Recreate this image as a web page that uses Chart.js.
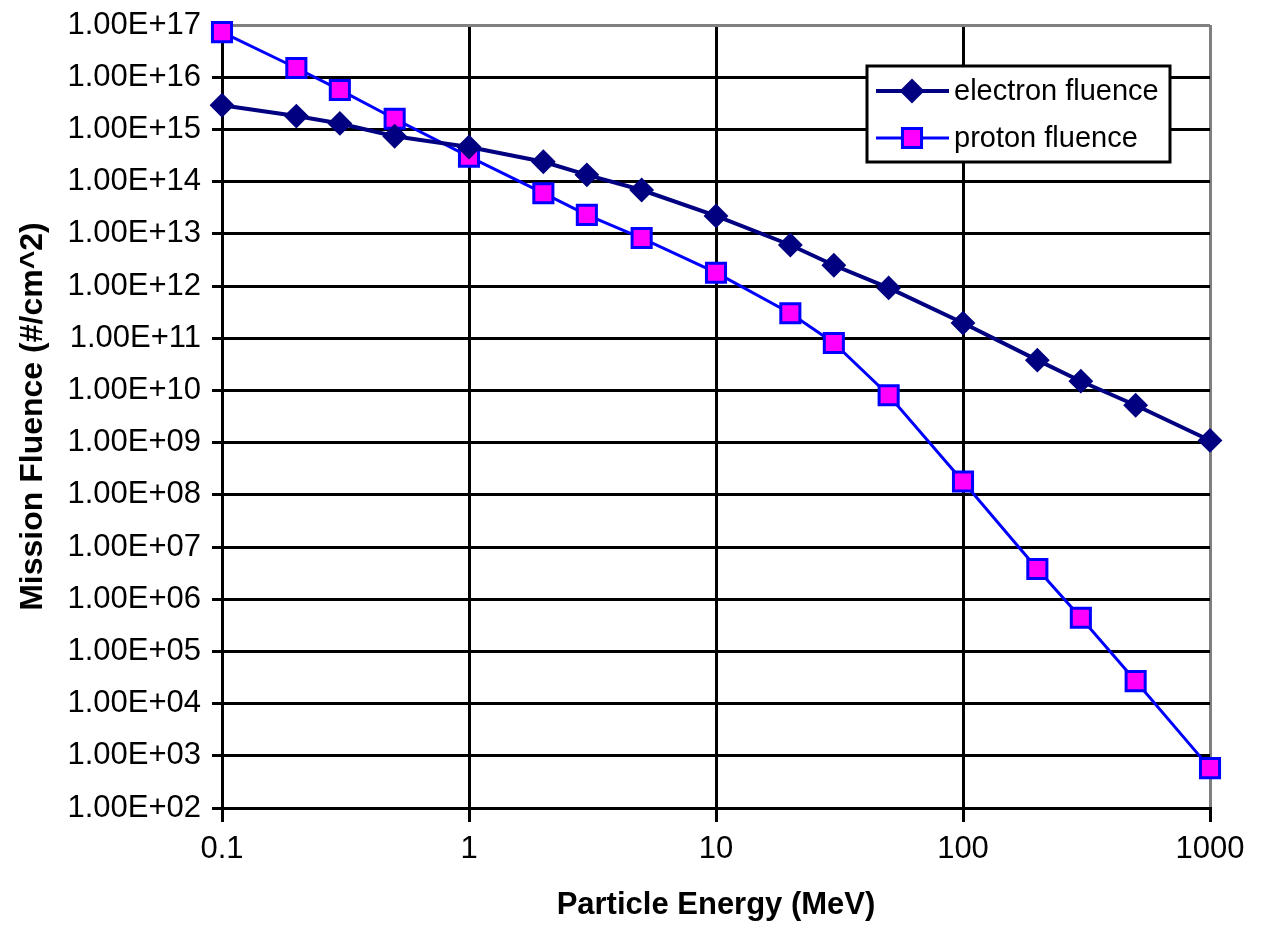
<!DOCTYPE html>
<html>
<head>
<meta charset="utf-8">
<script src="https://cdn.jsdelivr.net/npm/chart.js@4.4.1/dist/chart.umd.min.js"></script>
<style>
  html, body { margin: 0; padding: 0; background: #fff; }
  canvas { display: block; }
</style>
</head>
<body>
<canvas id="fluenceChart" width="1262" height="925"></canvas>
<script>
// Particle energy (MeV) and mission fluence (#/cm^2)
const energies = [0.1, 0.2, 0.3, 0.5, 1, 2, 3, 5, 10, 20, 30, 50, 100, 200, 300, 500, 1000];
const electronFluence = [2.9e15, 1.8e15, 1.3e15, 7.4e14, 4.6e14, 2.4e14, 1.35e14, 6.9e13, 2.2e13, 6.1e12, 2.5e12, 9.2e11, 1.95e11, 3.8e10, 1.5e10, 5.2e9, 1.1e9];
const protonFluence = [7.3e16, 1.5e16, 5.7e15, 1.6e15, 3.0e14, 6.0e13, 2.3e13, 8.3e12, 1.8e12, 3.0e11, 8.1e10, 8.1e9, 1.8e8, 3.8e6, 4.4e5, 2.7e4, 5.8e2];

const xTicks = [0.1, 1, 10, 100, 1000];
const yTicks = [1e2, 1e3, 1e4, 1e5, 1e6, 1e7, 1e8, 1e9, 1e10, 1e11, 1e12, 1e13, 1e14, 1e15, 1e16, 1e17];

const FONT = '"Liberation Sans", Arial, sans-serif';
const GRAY = "#808080";

function toPoints(values) {
  return energies.map(function (e, i) {
    return { x: e, y: values[i] };
  });
}

function sciLabel(v) {
  const exp = Math.round(Math.log10(v));
  return "1.00E+" + String(exp).padStart(2, "0");
}

// legend box drawn inside the plot, top right
const insideLegend = {
  id: "insideLegend",
  afterDatasetsDraw(chart) {
    const ctx = chart.ctx;
    const area = chart.chartArea;
    const boxW = 303;
    const boxH = 96;
    const left = area.right - 40 - boxW;
    const top = area.top + 41;
    ctx.save();
    ctx.fillStyle = "#fff";
    ctx.fillRect(left, top, boxW, boxH);
    ctx.strokeStyle = "#000";
    ctx.lineWidth = 3;
    ctx.strokeRect(left, top, boxW, boxH);
    chart.data.datasets.forEach(function (ds, i) {
      const y = top + 25 + i * 47;
      ctx.strokeStyle = ds.borderColor;
      ctx.lineWidth = ds.borderWidth;
      ctx.beginPath();
      ctx.moveTo(left + 9, y);
      ctx.lineTo(left + 82, y);
      ctx.stroke();
      ctx.fillStyle = ds.pointBackgroundColor;
      ctx.strokeStyle = ds.pointBorderColor;
      ctx.lineWidth = ds.pointBorderWidth;
      Chart.helpers.drawPoint(ctx, {
        pointStyle: ds.pointStyle,
        radius: ds.pointRadius,
        borderWidth: ds.pointBorderWidth,
        rotation: 0,
      }, left + 45, y);
      ctx.fillStyle = "#000";
      ctx.font = "29px " + FONT;
      ctx.textAlign = "left";
      ctx.textBaseline = "middle";
      ctx.fillText(ds.label, left + 87, y + 1);
    });
    ctx.restore();
  },
};

document.addEventListener("DOMContentLoaded", function () {
  const ctx = document.getElementById("fluenceChart");
  new Chart(ctx, {
    type: "line",
    data: {
      datasets: [
        {
          label: "electron fluence",
          data: toPoints(electronFluence),
          borderColor: "#000080",
          borderWidth: 4,
          pointStyle: "rectRot",
          pointRadius: 11,
          pointBackgroundColor: "#000080",
          pointBorderColor: "#000080",
          pointBorderWidth: 2,
          tension: 0,
          clip: false,
        },
        {
          label: "proton fluence",
          data: toPoints(protonFluence),
          borderColor: "#0000ff",
          borderWidth: 3,
          pointStyle: "rect",
          pointRadius: 13.5,
          pointBackgroundColor: "#ff00ff",
          pointBorderColor: "#0000ff",
          pointBorderWidth: 3,
          tension: 0,
          clip: false,
        },
      ],
    },
    options: {
      responsive: false,
      animation: false,
      layout: {
        padding: { top: 25, right: 52, left: 0, bottom: 0 },
      },
      plugins: {
        legend: { display: false },
        tooltip: { enabled: false },
      },
      scales: {
        x: {
          type: "logarithmic",
          min: 0.1,
          max: 1000,
          afterBuildTicks: function (scale) {
            scale.ticks = xTicks.map(function (v) { return { value: v }; });
          },
          afterFit: function (scale) {
            scale.height = 117;
          },
          ticks: {
            color: "#000",
            font: { family: FONT, size: 31 },
            padding: 9,
            maxRotation: 0,
            autoSkip: false,
            callback: function (v) {
              return String(v);
            },
          },
          grid: {
            color: function (c) {
              return c.tick && c.tick.value === 1000 ? GRAY : "#000";
            },
            tickColor: "#000",
            lineWidth: 3,
            tickLength: 14,
          },
          border: { color: "#000", width: 3 },
          title: {
            display: true,
            text: "Particle Energy (MeV)",
            color: "#000",
            font: { family: FONT, size: 31, weight: "bold" },
            padding: { top: 0, bottom: 1 },
          },
        },
        y: {
          type: "logarithmic",
          min: 1e2,
          max: 1e17,
          afterBuildTicks: function (scale) {
            scale.ticks = yTicks.map(function (v) { return { value: v }; });
          },
          afterFit: function (scale) {
            scale.width = 222;
          },
          ticks: {
            color: "#000",
            font: { family: FONT, size: 31, lineHeight: 0.9 },
            padding: 11,
            autoSkip: false,
            callback: function (v) {
              return sciLabel(v);
            },
          },
          grid: {
            color: function (c) {
              return c.tick && Math.round(Math.log10(c.tick.value)) === 17 ? GRAY : "#000";
            },
            tickColor: "#000",
            lineWidth: 3,
            tickLength: 10,
          },
          border: { color: "#000", width: 3 },
          title: {
            display: true,
            text: "Mission Fluence (#/cm^2)",
            color: "#000",
            font: { family: FONT, size: 32, weight: "bold" },
            padding: { top: 14, bottom: 0 },
          },
        },
      },
    },
    plugins: [insideLegend],
  });
});
</script>
</body>
</html>
